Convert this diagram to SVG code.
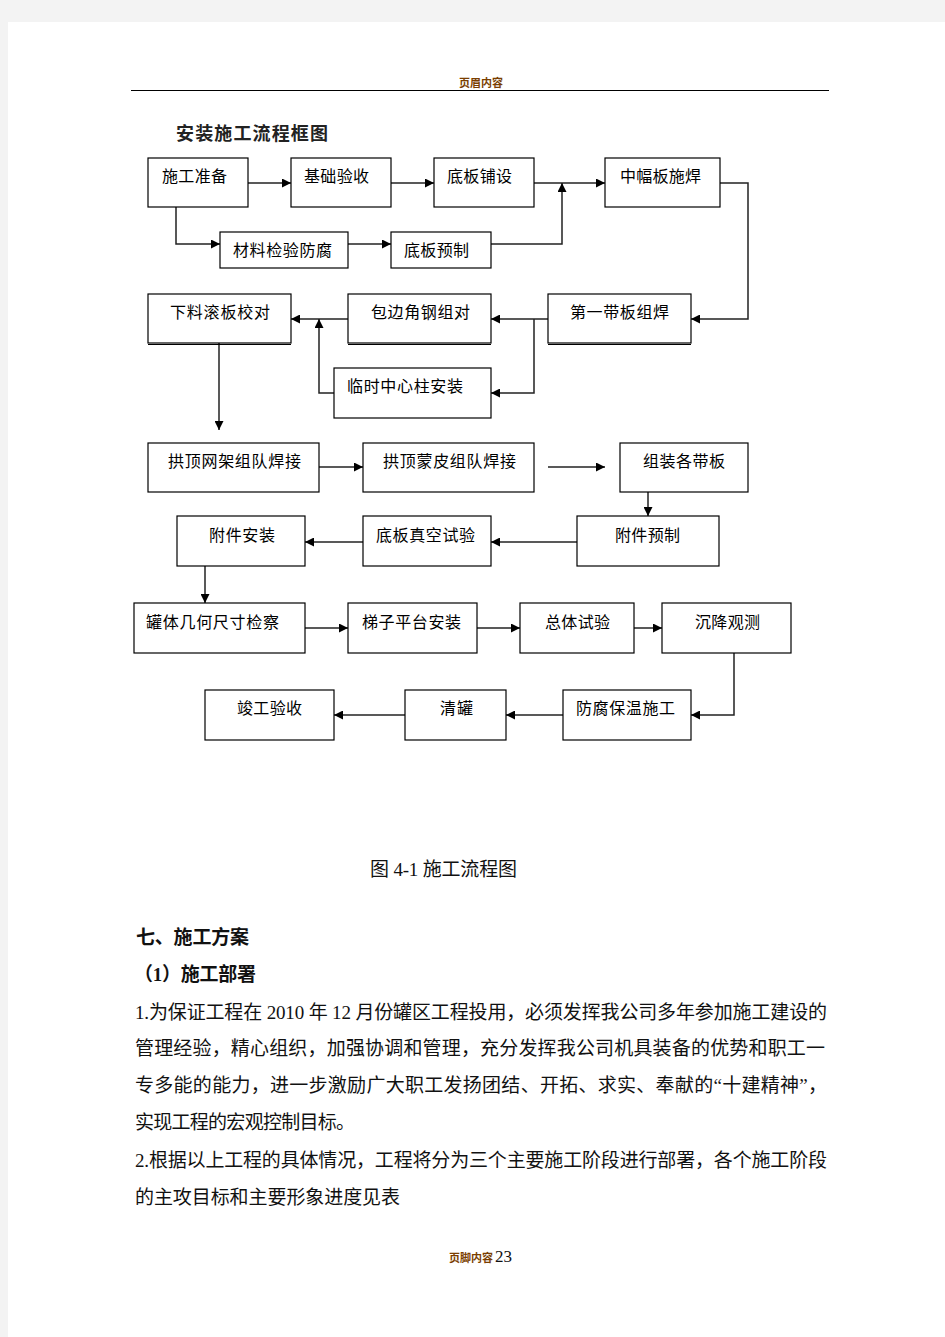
<svg xmlns="http://www.w3.org/2000/svg" width="945" height="1337" viewBox="0 0 945 1337">
<defs>
<marker id="ah" markerUnits="userSpaceOnUse" markerWidth="9" markerHeight="9" refX="9" refY="4.5" orient="auto">
<path d="M0,0 L9,4.5 L0,9 z" fill="#000"/>
</marker>
<style>
.box{fill:#fff;stroke:#000;stroke-width:1.2}
.lbl{font-family:"Noto Sans CJK SC","Liberation Sans",sans-serif;font-size:16px;fill:#000}
.con{fill:none;stroke:#222;stroke-width:1.5;marker-end:url(#ah)}
.body{font-family:"Liberation Serif","Noto Sans CJK SC",serif;font-size:19px;fill:#111}
.hd{font-family:"Noto Sans CJK SC",sans-serif;font-size:11px;font-weight:bold;fill:#7a3e00}
</style>
</defs>
<rect x="0" y="0" width="945" height="1337" fill="#f3f3f3"/>
<rect x="8" y="22" width="937" height="1315" fill="#fff"/>
<g id="header">
<text class="hd" x="481" y="87" text-anchor="middle">页眉内容</text>
<line x1="131" y1="90.5" x2="829" y2="90.5" stroke="#000" stroke-width="1"/>
</g>
<text id="title" x="176" y="140" font-family="Liberation Serif,Noto Sans CJK SC,serif" font-size="18" font-weight="bold" fill="#222" textLength="152">安装施工流程框图</text>
<g id="connectors">
<path class="con" d="M248,183 H291"/>
<path class="con" d="M391,183 H434"/>
<path class="con" d="M534,183 H605"/>
<path class="con" d="M176,207 V244 H220"/>
<path class="con" d="M348,244 H391"/>
<path class="con" d="M491,244 H562 V183"/>
<path class="con" d="M720,183 H748 V319 H691"/>
<path class="con" d="M548,319 H491"/>
<path class="con" d="M534,319 V393 H491"/>
<path class="con" d="M348,319 H291"/>
<path class="con" d="M334,393 H319 V319"/>
<path class="con" d="M219,343 V430"/>
<path class="con" d="M319,467 H363"/>
<path class="con" d="M548,467 H605"/>
<path class="con" d="M648,492 V516"/>
<path class="con" d="M577,542 H491"/>
<path class="con" d="M363,542 H305"/>
<path class="con" d="M205,566 V603"/>
<path class="con" d="M305,628 H348"/>
<path class="con" d="M477,628 H520"/>
<path class="con" d="M634,628 H662"/>
<path class="con" d="M734,653 V715 H691"/>
<path class="con" d="M563,715 H506"/>
<path class="con" d="M405,715 H334"/>
</g>
<g id="n1"><rect class="box" x="148" y="158" width="100" height="49"/><text class="lbl" x="162" y="182" textLength="65">施工准备</text></g>
<g id="n2"><rect class="box" x="291" y="158" width="100" height="49"/><text class="lbl" x="304" y="182" textLength="65">基础验收</text></g>
<g id="n3"><rect class="box" x="434" y="158" width="100" height="49"/><text class="lbl" x="447" y="182" textLength="65">底板铺设</text></g>
<g id="n4"><rect class="box" x="605" y="158" width="115" height="49"/><text class="lbl" x="620" y="182" textLength="81">中幅板施焊</text></g>
<g id="n5"><rect class="box" x="220" y="232" width="128" height="36"/><text class="lbl" x="233" y="256" textLength="99">材料检验防腐</text></g>
<g id="n6"><rect class="box" x="391" y="232" width="100" height="36"/><text class="lbl" x="404" y="256" textLength="65">底板预制</text></g>
<g id="n7"><rect class="box" x="148" y="294" width="143" height="49"/><line x1="148" y1="344.5" x2="291" y2="344.5" stroke="#000" stroke-width="1"/><text class="lbl" x="170" y="318" textLength="100">下料滚板校对</text></g>
<g id="n8"><rect class="box" x="348" y="294" width="143" height="49"/><line x1="348" y1="344.5" x2="491" y2="344.5" stroke="#000" stroke-width="1"/><text class="lbl" x="371" y="318" textLength="99">包边角钢组对</text></g>
<g id="n9"><rect class="box" x="548" y="294" width="143" height="49"/><line x1="548" y1="344.5" x2="691" y2="344.5" stroke="#000" stroke-width="1"/><text class="lbl" x="570" y="318" textLength="99">第一带板组焊</text></g>
<g id="n10"><rect class="box" x="334" y="368" width="157" height="50"/><text class="lbl" x="347" y="392" textLength="116">临时中心柱安装</text></g>
<g id="n11"><rect class="box" x="148" y="443" width="171" height="49"/><text class="lbl" x="168" y="467" textLength="133">拱顶网架组队焊接</text></g>
<g id="n12"><rect class="box" x="363" y="443" width="171" height="49"/><text class="lbl" x="383" y="467" textLength="133">拱顶蒙皮组队焊接</text></g>
<g id="n13"><rect class="box" x="620" y="443" width="128" height="49"/><text class="lbl" x="643" y="467" textLength="82">组装各带板</text></g>
<g id="n14"><rect class="box" x="177" y="516" width="128" height="50"/><text class="lbl" x="209" y="541" textLength="66">附件安装</text></g>
<g id="n15"><rect class="box" x="363" y="516" width="128" height="50"/><text class="lbl" x="376" y="541" textLength="99">底板真空试验</text></g>
<g id="n16"><rect class="box" x="577" y="516" width="142" height="50"/><text class="lbl" x="615" y="541" textLength="65">附件预制</text></g>
<g id="n17"><rect class="box" x="134" y="603" width="171" height="50"/><text class="lbl" x="146" y="628" textLength="133">罐体几何尺寸检察</text></g>
<g id="n18"><rect class="box" x="348" y="603" width="129" height="50"/><text class="lbl" x="362" y="628" textLength="99">梯子平台安装</text></g>
<g id="n19"><rect class="box" x="520" y="603" width="114" height="50"/><text class="lbl" x="545" y="628" textLength="65">总体试验</text></g>
<g id="n20"><rect class="box" x="662" y="603" width="129" height="50"/><text class="lbl" x="695" y="628" textLength="65">沉降观测</text></g>
<g id="n21"><rect class="box" x="205" y="690" width="129" height="50"/><text class="lbl" x="237" y="714" textLength="65">竣工验收</text></g>
<g id="n22"><rect class="box" x="405" y="690" width="101" height="50"/><text class="lbl" x="440" y="714" textLength="33">清罐</text></g>
<g id="n23"><rect class="box" x="563" y="690" width="128" height="50"/><text class="lbl" x="576" y="714" textLength="99">防腐保温施工</text></g>
<text id="caption" class="body" x="370" y="876" font-size="18" fill="#333" textLength="147">图 4-1 施工流程图</text>
<g id="textblock">
<text class="body" x="136" y="944" font-weight="bold" textLength="113">七、施工方案</text>
<text class="body" x="134" y="981" font-weight="bold" textLength="122">（1）施工部署</text>
<text class="body" x="135" y="1019" textLength="692">1.为保证工程在 2010 年 12 月份罐区工程投用，必须发挥我公司多年参加施工建设的</text>
<text class="body" x="135" y="1055" textLength="690">管理经验，精心组织，加强协调和管理，充分发挥我公司机具装备的优势和职工一</text>
<text class="body" x="135" y="1092" textLength="692">专多能的能力，进一步激励广大职工发扬团结、开拓、求实、奉献的“十建精神”，</text>
<text class="body" x="135" y="1129" textLength="220">实现工程的宏观控制目标。</text>
<text class="body" x="135" y="1167" textLength="692">2.根据以上工程的具体情况，工程将分为三个主要施工阶段进行部署，各个施工阶段</text>
<text class="body" x="135" y="1204" textLength="265">的主攻目标和主要形象进度见表</text>
</g>
<g id="footer">
<text class="hd" x="449" y="1262">页脚内容</text>
<text x="495" y="1262" font-family="Liberation Serif,serif" font-size="17" fill="#111">23</text>
</g>
</svg>
